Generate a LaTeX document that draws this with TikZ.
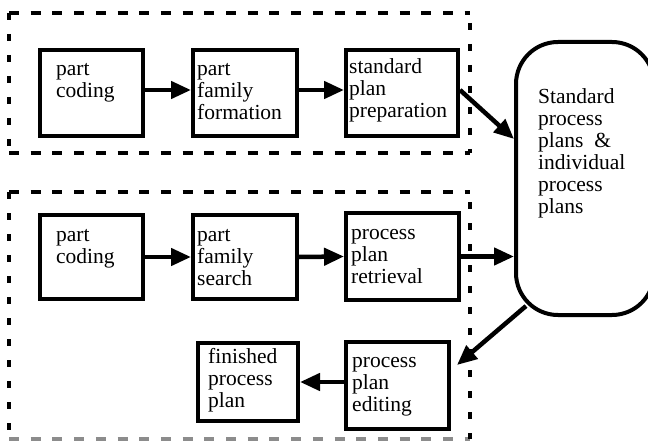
\documentclass[tikz,border=0pt]{standalone}
\usepackage{fontspec}
\setmainfont{Liberation Serif}
\newfontfamily\lblfont{Liberation Serif}
\usetikzlibrary{arrows.meta}

\tikzset{
  stepbox/.style={draw, line width=4pt, rectangle, inner sep=0pt},
  storebox/.style={draw, line width=4pt, rectangle, rounded corners=42pt, inner sep=0pt},
  % labels are placed by the baseline of their last line
  lbl/.style={inner sep=0pt, anchor=base west, align=left,
              font={\lblfont\fontsize{21.5pt}{22pt}\selectfont}},
  flow/.style={line width=4.5pt, -{Triangle[length=20pt,width=17pt]}},
  hdash/.style={line width=4.5pt, dash pattern=on 10pt off 11.7pt},
  vdash/.style={line width=4.5pt, dash pattern=on 7pt off 14pt},
}

% box from corner (x1,y1) to (x2,y2), y measured downwards
\newcommand{\mkbox}[6]{%
  \node[#6, minimum width=#4-#2, minimum height=#5-#3, anchor=north west]
    (#1) at (#2,#3) {};}

\begin{document}
\begin{tikzpicture}[x=1pt, y=-1pt]
  \useasboundingbox (0,0) rectangle (648,441);
  \clip (0,0) rectangle (648,441);

  % dashed frames of the two stages
  \coordinate (t1) at (9,13);   \coordinate (t2) at (470,13);
  \coordinate (t3) at (470,153); \coordinate (t4) at (9,153);
  \draw[hdash] (t1) -- (t2);
  \draw[hdash] (t4) -- (t3);
  \draw[vdash] (t1) -- (t4);
  \draw[vdash] ([yshift=-10pt]t2) -- (t3);

  \coordinate (u1) at (9,192);   \coordinate (u2) at (470,192);
  \coordinate (u3) at (470,439); \coordinate (u4) at (9,439);
  \draw[hdash] (u1) -- (u2);
  \draw[hdash, draw=black!45] (u4) -- (u3);
  \draw[vdash] (u1) -- (u4);
  \draw[vdash] ([yshift=-10pt]u2) -- (u3);

  % process steps
  \mkbox{a1}{38}{48}{141}{134}{stepbox}
  \mkbox{a2}{191}{48}{295}{134}{stepbox}
  \mkbox{a3}{344}{48}{456}{134}{stepbox}
  \mkbox{b1}{38}{213}{141}{297}{stepbox}
  \mkbox{b2}{191}{213}{295}{297}{stepbox}
  \mkbox{b3}{344}{211}{457}{298}{stepbox}
  \mkbox{ed}{344}{340}{447}{427}{stepbox}
  \mkbox{fin}{196}{341}{296}{419}{stepbox}
  \mkbox{plans}{514}{40}{652}{313}{storebox}

  % labels
  \node[lbl] (a1t) at (56,98)   {part\\coding};
  \node[lbl] (a2t) at (197,120) {part\\family\\formation};
  \node[lbl] (a3t) at (349,118) {standard\\plan\\preparation};
  \node[lbl] (b1t) at (56,263)  {part\\coding};
  \node[lbl] (b2t) at (197,285) {part\\family\\search};
  \node[lbl] (b3t) at (351,283) {process\\plan\\retrieval};
  \node[lbl] (edt) at (352,411) {process\\plan\\editing};
  \node[lbl] (fint) at (208,407) {finished\\process\\plan};
  \node[lbl] (plt) at (538,213) {Standard\\process\\plans~~\&\\individual\\process\\plans};

  % flow of work
  \draw[flow] ([yshift=3pt]a1.east) -- ([yshift=3pt]a2.west);
  \draw[flow] ([yshift=3pt]a2.east) -- ([yshift=3pt]a3.west);
  \draw[flow] ([yshift=3pt]a3.east) -- ([yshift=39.5pt]plans.west);
  \draw[flow] (b1.east) -- (b2.west);
  \draw[flow] (b2.east) -- (b3.west);
  \draw[flow] (b3.east) -- (plans.west |- b3.east);
  \draw[flow] ([xshift=12pt,yshift=11pt]plans.south west) -- ([xshift=6pt,yshift=20.5pt]ed.east);
  \draw[flow] (ed.west |- fin.east) -- (fin.east);
\end{tikzpicture}
\end{document}
